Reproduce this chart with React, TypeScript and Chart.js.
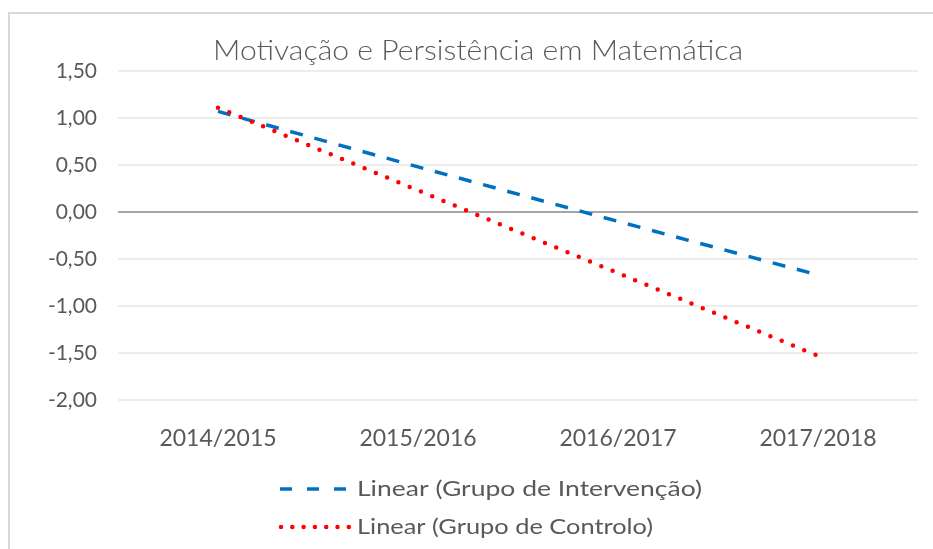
import React, { useEffect, useRef } from 'react';
import { Chart, registerables } from 'chart.js';

Chart.register(...registerables);

// ---- data ----
const chartTitle = 'Motivação e Persistência em Matemática';
const categories = ['2014/2015', '2015/2016', '2016/2017', '2017/2018'];
const seriesLabels = ['Linear (Grupo de Intervenção)', 'Linear (Grupo de Controlo)'];
const intervencao = [1.07, 0.48, -0.1, -0.67];
const controlo = [1.11, 0.23, -0.65, -1.53];
const yMin = -2;
const yMax = 1.5;
const yStep = 0.5;

// ---- styles ----
const FONT = 'Lato, "DejaVu Sans", sans-serif';
const TEXT = '#595959';
const BLUE = '#0070C0';
const RED = '#FF0000';
const W = 923;
const H = 535;

function fillStretched(
  ctx: CanvasRenderingContext2D,
  text: string,
  x: number,
  y: number,
  targetWidth: number,
  align: 'left' | 'center'
) {
  const w = ctx.measureText(text).width;
  const sx = w > 0 ? targetWidth / w : 1;
  ctx.save();
  ctx.translate(x, y);
  ctx.scale(sx, 1);
  ctx.textAlign = align;
  ctx.fillText(text, 0, 0);
  ctx.restore();
}

const overlay = {
  id: 'overlay',
  afterDraw(chart: any) {
    const ctx = chart.ctx as CanvasRenderingContext2D;
    ctx.save();
    // title
    ctx.fillStyle = TEXT;
    ctx.font = `300 27px ${FONT}`;
    ctx.textBaseline = 'middle';
    fillStretched(ctx, chartTitle, 468, 37, 530, 'center');

    // legend
    const sx0 = 270;
    const sx1 = 338;
    const tx = 347;
    const rows = [475, 513];
    // blue dashed
    ctx.strokeStyle = BLUE;
    ctx.lineWidth = 3.5;
    ctx.setLineDash([12, 15]);
    ctx.lineCap = 'butt';
    ctx.beginPath();
    ctx.moveTo(sx0, rows[0]);
    ctx.lineTo(sx1, rows[0]);
    ctx.stroke();
    // red dotted
    ctx.strokeStyle = RED;
    ctx.lineWidth = 4.5;
    ctx.setLineDash([0, 11.3]);
    ctx.lineCap = 'round';
    ctx.beginPath();
    ctx.moveTo(sx0 + 1, rows[1]);
    ctx.lineTo(sx1 + 1, rows[1]);
    ctx.stroke();
    ctx.setLineDash([]);

    ctx.fillStyle = TEXT;
    ctx.font = `22px ${FONT}`;
    ctx.textBaseline = 'middle';
    fillStretched(ctx, seriesLabels[0], tx, rows[0], 345, 'left');
    fillStretched(ctx, seriesLabels[1], tx, rows[1], 296, 'left');
    ctx.restore();
  },
};

export default function App() {
  const ref = useRef<HTMLCanvasElement | null>(null);

  useEffect(() => {
    if (!ref.current) return;
    const chart = new Chart(ref.current, {
      type: 'line',
      data: {
        labels: categories,
        datasets: [
          {
            label: seriesLabels[0],
            data: intervencao,
            borderColor: BLUE,
            backgroundColor: BLUE,
            borderWidth: 3.5,
            borderDash: [13, 12],
            borderCapStyle: 'butt',
            pointRadius: 0,
            tension: 0,
            order: 2,
          },
          {
            label: seriesLabels[1],
            data: controlo,
            borderColor: RED,
            backgroundColor: RED,
            borderWidth: 4.5,
            borderDash: [0, 12.2],
            borderCapStyle: 'round',
            pointRadius: 0,
            tension: 0,
            order: 1,
          },
        ],
      },
      options: {
        animation: false,
        responsive: false,
        maintainAspectRatio: false,
        layout: { padding: { top: 57, right: 15, bottom: 90, left: 0 } },
        plugins: {
          legend: { display: false },
          title: { display: false },
          tooltip: { enabled: false },
        },
        scales: {
          x: {
            offset: true,
            grid: { display: false },
            border: { display: false },
            ticks: { color: TEXT, font: { family: FONT, size: 23 }, padding: 17 },
            afterFit: (s: any) => {
              s.height = 59;
            },
          },
          y: {
            min: yMin,
            max: yMax,
            border: { display: false },
            grid: {
              drawTicks: false,
              lineWidth: 2,
              color: (c: any) => (c.tick && c.tick.value === 0 ? '#a6a6a6' : '#ededed'),
            },
            ticks: {
              stepSize: yStep,
              color: TEXT,
              font: { family: FONT, size: 21 },
              padding: 21,
              callback: (v: any) => Number(v).toFixed(2).replace('.', ','),
            },
            afterFit: (s: any) => {
              s.width = 108;
            },
          },
        },
      },
      plugins: [overlay],
    } as any);
    return () => chart.destroy();
  }, []);

  return (
    <div
      style={{
        position: 'absolute',
        left: 8,
        top: 12,
        width: 925,
        height: 537,
        borderTop: '2px solid #d9d9d9',
        borderLeft: '2px solid #d9d9d9',
        boxSizing: 'border-box',
        background: '#fff',
        overflow: 'hidden',
      }}
    >
      <canvas
        ref={ref}
        width={W}
        height={H}
        style={{ position: 'absolute', left: 0, top: 0, width: W, height: H }}
      />
    </div>
  );
}
